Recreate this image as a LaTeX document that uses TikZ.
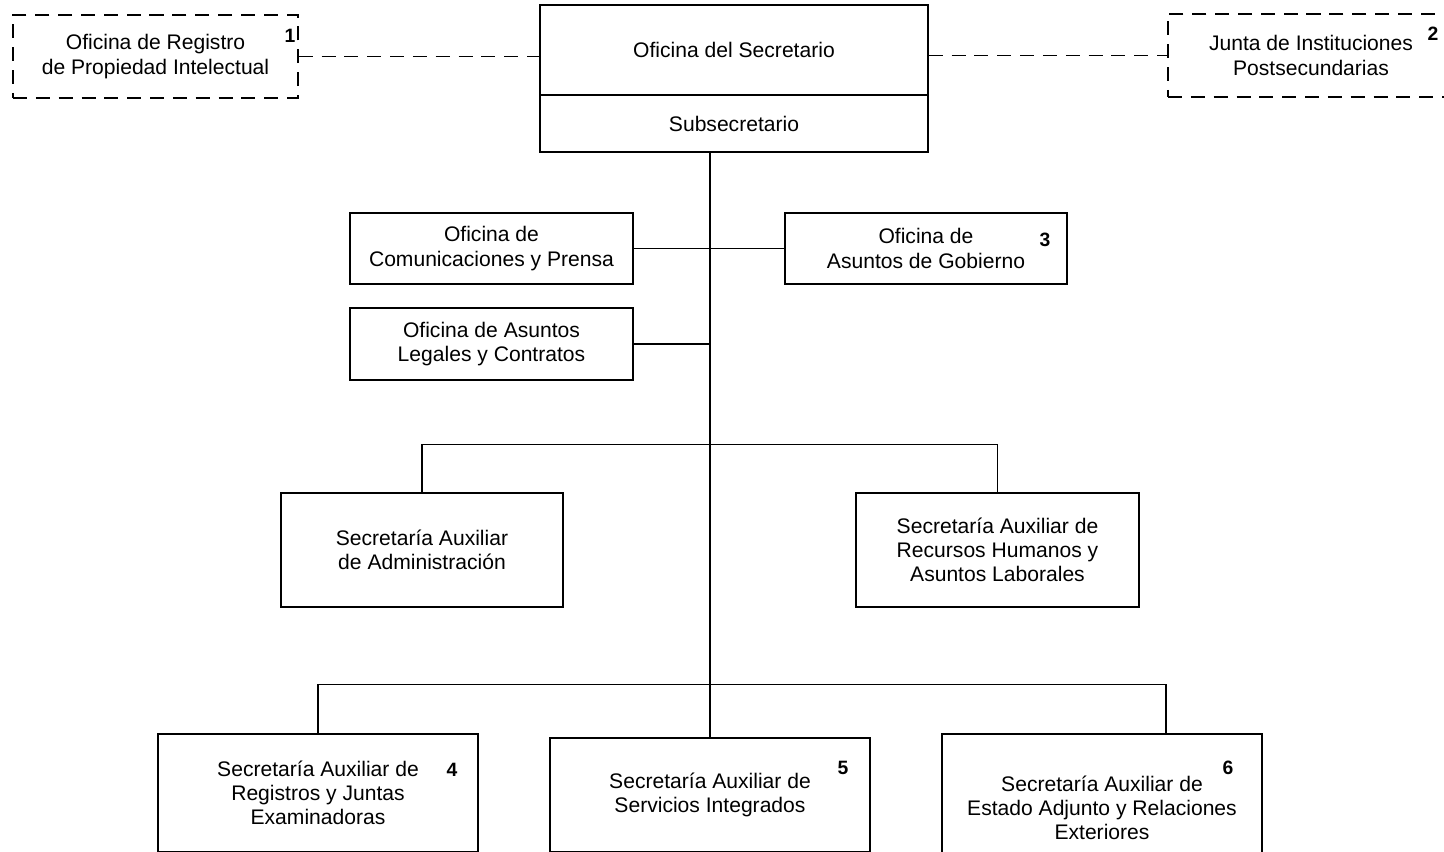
\documentclass[tikz,border=0pt]{standalone}
\usepackage{fontspec}
\setmainfont{Liberation Sans}
\usetikzlibrary{positioning}
\newcommand{\unitpx}{0.02cm}
\tikzset{
    unit/.style 2 args={minimum width={#1*\unitpx}, minimum height={#2*\unitpx}},
    box/.style={draw, line width=0.8pt, align=center, inner sep=0pt,
        font=\fontsize{12}{13.8}\selectfont},
    dashbox/.style={box, dash pattern=on 8pt off 5pt},
    num/.style={font=\fontsize{11}{12}\selectfont\bfseries, inner sep=0pt},
    link/.style={line width=0.6pt},
    dashlink/.style={line width=0.8pt, dash pattern=on 8pt off 5pt}
}
\begin{document}
\begin{tikzpicture}[x=\unitpx,y=-\unitpx]
            \useasboundingbox (0,0) rectangle (1444,852);
            % top level
            \node[box, unit={388}{90}] (sec) at (734,50) {Oficina del Secretario};
            \node[box, unit={388}{57}] (sub) at (734,123.5) {Subsecretario};
            \node[dashbox, unit={285}{83}] (reg) at (155.5,56.5) {Oficina de Registro\\de Propiedad Intelectual};
            \node[dashbox, unit={286}{83}] (junta) at (1311,55.5) {Junta de Instituciones\\Postsecundarias};
            \node[num] (n1) at (290,36) {1};
            \node[num] (n2) at (1433,34) {2};
            \draw[dashlink] (reg.east) -- (reg.east -| sec.west);
            \draw[dashlink] (junta.west -| sec.east) -- (junta.west);
            % staff offices
            \node[box, unit={283}{71}] (com) at (491.5,248.5) {Oficina de\\Comunicaciones y Prensa};
            \node[box, unit={282}{71}] (gob) at (926,248.5) {Oficina de\\Asuntos de Gobierno};
            \node[box, unit={283}{72}] (leg) at (491.5,344) {Oficina de Asuntos\\Legales y Contratos};
            \node[num] (n3) at (1045,240) {3};
            % auxiliary secretariats
            \node[box, unit={282}{114}] (adm) at (422,550) {Secretaría Auxiliar\\de Administración};
            \node[box, unit={283}{114}] (rrhh) at (997.5,550) {Secretaría Auxiliar de\\Recursos Humanos y\\Asuntos Laborales};
            \node[box, unit={320}{118}] (juntas) at (318,793) {Secretaría Auxiliar de\\Registros y Juntas\\Examinadoras};
            \node[box, unit={320}{114}] (serv) at (710,795) {Secretaría Auxiliar de\\Servicios Integrados};
            \node[box, unit={320}{148}] (ext) at (1102,808) {Secretaría Auxiliar de\\Estado Adjunto y Relaciones\\Exteriores};
            \node[num] (n4) at (452,770) {4};
            \node[num] (n5) at (843,768) {5};
            \node[num] (n6) at (1228,768) {6};
            \coordinate (extin) at (1166,734);
            % connectors
            \draw[link] (serv.north |- sub.south) -- (serv.north);
            \draw[link] (com.east) -- (gob.west);
            \draw[link] (leg.east) -- (leg.east -| serv.north);
            \draw[link] (adm.north) -- ++(0,-48) -| (rrhh.north);
            \draw[link] (juntas.north) -- ++(0,-49) -| (extin);
        \end{tikzpicture}
\end{document}
